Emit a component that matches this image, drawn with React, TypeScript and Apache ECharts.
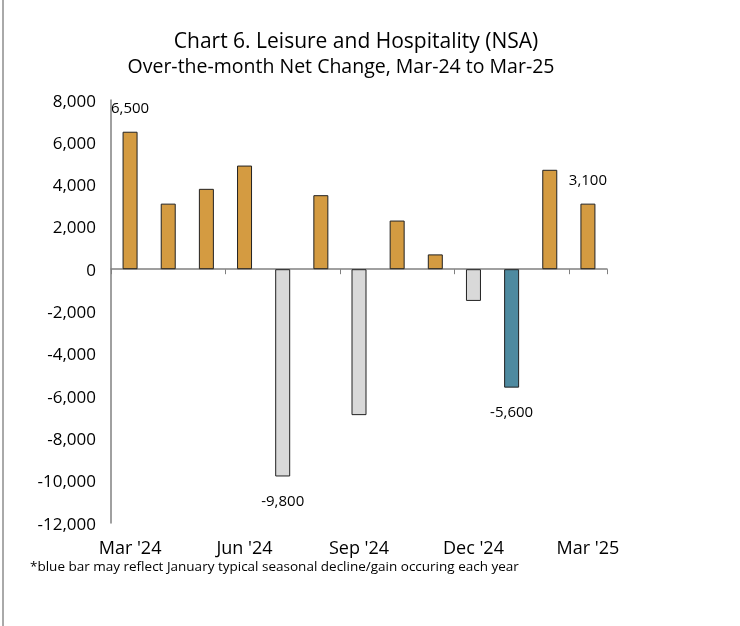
import React, { useEffect, useRef } from "react";
import * as echarts from "echarts";

const categories = ["Mar '24", "Apr '24", "May '24", "Jun '24", "Jul '24", "Aug '24", "Sep '24", "Oct '24", "Nov '24", "Dec '24", "Jan '25", "Feb '25", "Mar '25"];
const values = [6500, 3100, 3800, 4900, -9800, 3500, -6900, 2300, 700, -1500, -5600, 4700, 3100];
const labeledIndices = [0, 4, 10, 12];
const blueIndex = 10;
const titleLines = ["Chart 6. Leisure and Hospitality (NSA)", "Over-the-month Net Change, Mar-24 to Mar-25"];
const footnote = "*blue bar may reflect January typical seasonal decline/gain occuring each year";

const FONT = "'Open Sans', 'Noto Sans', sans-serif";

export default function App() {
  const ref = useRef<HTMLDivElement>(null);
  useEffect(() => {
    if (!ref.current) return;
    const chart = echarts.init(ref.current, undefined, { renderer: "svg" });
    const fmt = (v: number) => v.toLocaleString("en-US");
    const data = values.map((v, i) => {
      const color = i === blueIndex ? "#4E8AA0" : v < 0 ? "#D9D9D9" : "#D49B41";
      return {
        value: v,
        itemStyle: { color, borderColor: "#222", borderWidth: 1 },
        label: {
          show: labeledIndices.includes(i),
          position: v < 0 ? "bottom" : "top",
          distance: v < 0 ? 16 : 17,
          formatter: (p: any) => fmt(p.value),
          color: "#000",
          fontSize: 15,
          fontFamily: FONT,
        },
      };
    });
    chart.setOption({
      animation: false,
      grid: { left: 111, right: 133, top: 100, bottom: 103, containLabel: false },
      xAxis: {
        type: "category",
        data: categories,
        axisLine: { lineStyle: { color: "#808080", width: 1.5 }, onZero: true },
        axisTick: { show: true, interval: 2, length: 5, inside: false, lineStyle: { color: "#808080" } },
        axisLabel: {
          interval: 2,
          color: "#000",
          fontSize: 18,
          lineHeight: 18,
          fontFamily: FONT,
          margin: 15,
        },
        position: "bottom",
      },
      yAxis: {
        type: "value",
        min: -12000,
        max: 8000,
        interval: 2000,
        axisLine: { show: true, lineStyle: { color: "#808080", width: 1.5 } },
        axisTick: { show: false },
        splitLine: { show: false },
        axisLabel: {
          color: "#000",
          fontSize: 17,
          fontFamily: FONT,
          margin: 15,
          formatter: (v: number) => fmt(v),
        },
      },
      series: [
        {
          type: "bar",
          data,
          barWidth: 15,
        },
      ],
      graphic: [
        {
          type: "line",
          shape: { x1: 3, y1: 0, x2: 3, y2: 626 },
          style: { stroke: "#555", lineWidth: 1 },
        },
        {
          type: "text",
          x: 356,
          y: 40,
          style: { text: titleLines[0], fontSize: 21, fill: "#000", fontFamily: FONT, textAlign: "center", textVerticalAlign: "middle" },
        },
        {
          type: "text",
          x: 341,
          y: 65,
          style: { text: titleLines[1], fontSize: 19.5, fill: "#000", fontFamily: FONT, textAlign: "center", textVerticalAlign: "middle" },
        },
        {
          type: "text",
          left: 30,
          top: 559,
          style: { text: footnote, fontSize: 13.5, fill: "#000", fontFamily: FONT },
        },
      ],
    });
    return () => chart.dispose();
  }, []);
  return <div ref={ref} style={{ position: "fixed", left: 0, top: 0, width: 740, height: 626 }} />;
}
